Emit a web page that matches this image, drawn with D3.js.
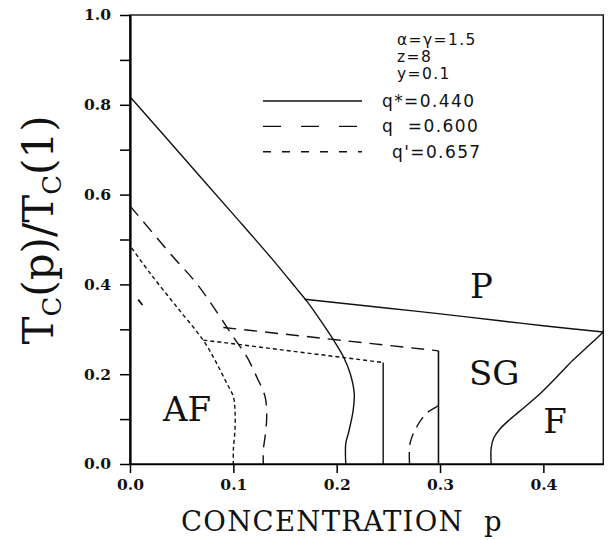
<!DOCTYPE html>
<html>
<head>
<meta charset="utf-8">
<script src="https://cdnjs.cloudflare.com/ajax/libs/d3/7.8.5/d3.min.js"></script>
<style>
  body { margin: 0; background: #fff; }
  svg { display: block; }
</style>
</head>
<body>
<div id="chart"></div>
<script>
// GLOBAL
var width = 608
var height = 540
var margin = {top: 15, left: 130, bottom: 76, right: 4.7}
var pMax = 0.458

var svg = d3.select('#chart').append('svg')
  .attr('width', width)
  .attr('height', height)

// DATA (p, Tc(p)/Tc(1))
var qStarUpper = [[0, 0.818], [0.05, 0.687], [0.10, 0.556], [0.137, 0.458], [0.160, 0.394],
  [0.172, 0.360], [0.184, 0.321], [0.197, 0.276], [0.2065, 0.239], [0.213, 0.202],
  [0.217, 0.157], [0.216, 0.120], [0.2113, 0.068], [0.2088, 0.046], [0.2088, 0]]
var paraBoundary = [[0.169, 0.367], [0.25, 0.347], [0.294, 0.336], [0.358, 0.319], [0.40, 0.308], [0.458, 0.294]]
var ferroBoundary = [[0.3495, 0], [0.3495, 0.036], [0.352, 0.058], [0.358, 0.078], [0.368, 0.100],
  [0.382, 0.127], [0.397, 0.157], [0.413, 0.194], [0.429, 0.232], [0.445, 0.266], [0.458, 0.294]]
var qStarVertical = [[0.245, 0], [0.245, 0.226]]
var qVertical = [[0.2985, 0], [0.2985, 0.252]]

var qUpper = [[0, 0.575], [0.0403, 0.465], [0.0645, 0.402], [0.0839, 0.339], [0.1, 0.283],
  [0.113, 0.239], [0.1226, 0.194], [0.1307, 0.150], [0.1323, 0.105], [0.1307, 0.061],
  [0.129, 0.031], [0.129, 0]]
var qHorizontal = [[0.0903, 0.304], [0.2985, 0.252]]
var qLower = [[0.2705, 0], [0.271, 0.046], [0.2775, 0.083], [0.287, 0.113], [0.297, 0.128], [0.2985, 0.13]]

var qPrimeUpper = [[0.0016, 0.481], [0.0194, 0.425], [0.0452, 0.350], [0.071, 0.275], [0.0839, 0.224],
  [0.0936, 0.180], [0.1, 0.150], [0.1016, 0.120], [0.1016, 0.076], [0.1, 0.031], [0.1, 0]]
var qPrimeHorizontal = [[0.071, 0.276], [0.245, 0.226]]
var strayMark = [[0.008, 0.366], [0.012, 0.354]]

var xTicks = [0, 0.1, 0.2, 0.3, 0.4]
var yTicks = [0, 0.1, 0.2, 0.3, 0.4, 0.5, 0.6, 0.7, 0.8, 0.9, 1.0]
var yTickLabels = [0, 0.2, 0.4, 0.6, 0.8, 1.0]

var paramLines = ['α=γ=1.5', 'z=8', 'y=0.1']
var seriesLabels = ['q*=0.440', 'q\u00a0\u00a0=0.600', "q'=0.657"]
var seriesDash = [null, '18,20', '8,11']

var regionLabels = [
  {text: 'P', p: 0.329, t: 0.370},
  {text: 'SG', p: 0.328, t: 0.176},
  {text: 'AF', p: 0.032, t: 0.095},
  {text: 'F', p: 0.400, t: 0.069}
]

// SCALES
var x = d3.scaleLinear().domain([0, pMax]).range([margin.left, width - margin.right])
var y = d3.scaleLinear().domain([0, 1]).range([height - margin.bottom, margin.top])

var smooth = d3.line().x(d => x(d[0])).y(d => y(d[1])).curve(d3.curveCatmullRom.alpha(0.5))
var straight = d3.line().x(d => x(d[0])).y(d => y(d[1]))

// FRAME
svg.append('rect')
  .attr('x', x(0)).attr('y', y(1))
  .attr('width', x(pMax) - x(0)).attr('height', y(0) - y(1))
  .style('fill', 'none').style('stroke', '#111').style('stroke-width', 1.4)

// AXES
var yAxis = d3.axisLeft(y).tickValues(yTicks).tickSize(10).tickSizeOuter(0)
  .tickFormat(d => yTickLabels.some(v => Math.abs(v - d) < 1e-9) ? d3.format('.1f')(d) : '')
var gY = svg.append('g').attr('transform', 'translate(' + x(0) + ',0)').call(yAxis)

var xAxis = d3.axisBottom(x).tickValues(xTicks).tickSize(9).tickSizeOuter(0).tickFormat(d3.format('.1f'))
var gX = svg.append('g').attr('transform', 'translate(0,' + y(0) + ')').call(xAxis)

gY.select('.domain').style('stroke-width', 2.2)
gX.select('.domain').style('stroke-width', 1.6)
gY.selectAll('.tick line').style('stroke-width', 1.5)
gX.selectAll('.tick line').style('stroke-width', 1.5)
gY.selectAll('.tick text').attr('x', -19)
gX.selectAll('.tick text').attr('y', 15)
svg.selectAll('.tick text')
  .style('font-family', '"DejaVu Serif", serif')
  .style('font-weight', 'bold')
  .style('font-size', '15.5px')
  .style('fill', '#111')

// CURVES
function drawCurve(data, gen, dash, w) {
  svg.append('path')
    .attr('d', gen(data))
    .style('fill', 'none')
    .style('stroke', '#111')
    .style('stroke-width', w || 1.4)
    .style('stroke-dasharray', dash)
}

drawCurve(qStarUpper, smooth, null)
drawCurve(paraBoundary, smooth, null)
drawCurve(ferroBoundary, smooth, null)
drawCurve(qStarVertical, straight, null)
drawCurve(qVertical, straight, null, 1.6)
drawCurve(qUpper, smooth, '13,8')
drawCurve(qHorizontal, straight, '13,8')
drawCurve(qLower, smooth, '12,7')
drawCurve(qPrimeUpper, smooth, '4,3')
drawCurve(qPrimeHorizontal, straight, '4,3')
drawCurve(strayMark, straight, null, 1.8)

// LEGEND
var legend = svg.append('g')
paramLines.forEach(function(t, i) {
  legend.append('text')
    .attr('x', 397).attr('y', 45 + i * 17)
    .style('font-size', '15.5px')
    .text(t)
})
seriesLabels.forEach(function(t, i) {
  var yy = 101 + i * 25.4
  legend.append('line')
    .attr('x1', 263).attr('x2', 362)
    .attr('y1', yy).attr('y2', yy)
    .style('stroke', '#111').style('stroke-width', 1.4)
    .style('stroke-dasharray', seriesDash[i])
  legend.append('text')
    .attr('x', i == 2 ? 392 : 382).attr('y', yy + 6)
    .style('font-size', '17px')
    .text(t)
})
legend.selectAll('text')
  .style('font-family', '"DejaVu Sans", sans-serif')
  .style('letter-spacing', '1.4px')
  .style('fill', '#111')

// REGION LABELS
svg.selectAll('.region')
  .data(regionLabels)
  .enter().append('text')
  .attr('class', 'region')
  .attr('x', d => x(d.p))
  .attr('y', d => y(d.t))
  .text(d => d.text)
  .style('font-family', '"DejaVu Serif", serif')
  .style('font-size', '34px')
  .style('fill', '#111')

// AXIS TITLES
svg.append('text')
  .attr('x', 342).attr('y', 531)
  .attr('text-anchor', 'middle')
  .style('font-family', '"DejaVu Serif", serif')
  .style('font-size', '27.5px')
  .style('letter-spacing', '1.3px')
  .style('fill', '#111')
  .text('CONCENTRATION\u00a0\u00a0p')

var yTitle = svg.append('text')
  .attr('transform', 'translate(53,230) rotate(-90)')
  .attr('text-anchor', 'middle')
  .style('font-family', '"DejaVu Serif", serif')
  .style('font-size', '42px')
  .style('fill', '#111')
yTitle.append('tspan').text('T')
yTitle.append('tspan').attr('dy', 8).style('font-size', '26px').text('C')
yTitle.append('tspan').attr('dy', -8).text('(p)/T')
yTitle.append('tspan').attr('dy', 8).style('font-size', '26px').text('C')
yTitle.append('tspan').attr('dy', -8).text('(1)')
</script>
</body>
</html>
